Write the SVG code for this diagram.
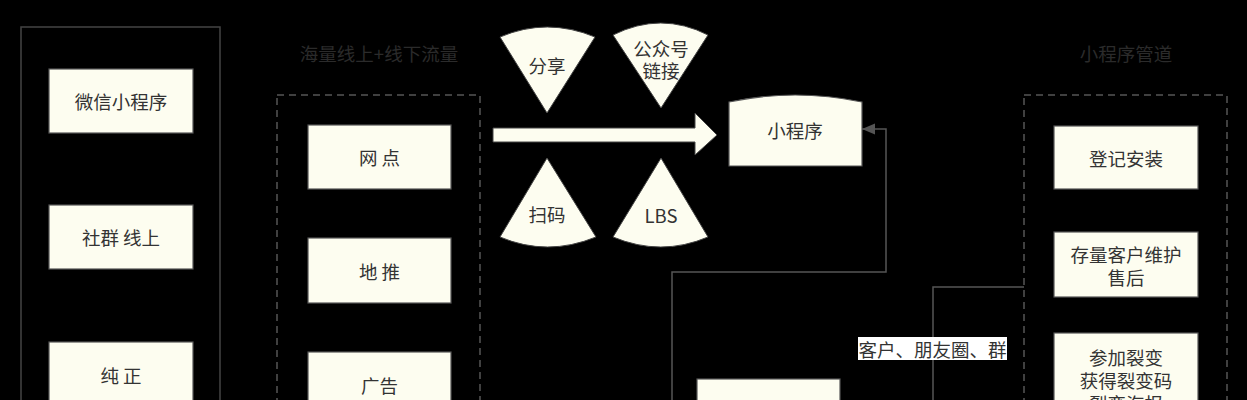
<svg xmlns="http://www.w3.org/2000/svg" width="1247" height="400" viewBox="0 0 1247 400">
<style>
.bg{fill:#000}
.box{fill:#fdfdf0;stroke:#555;stroke-width:1.2}
.shape{fill:#fdfdf0;stroke:#444;stroke-width:1}
.txt{font-family:"Noto Sans CJK SC","Noto Sans",sans-serif;font-size:18.5px;fill:#333;text-anchor:middle;dominant-baseline:central}
.title{font-family:"Noto Sans CJK SC","Noto Sans",sans-serif;font-size:18.5px;fill:#2b2b2b;text-anchor:middle;dominant-baseline:central}
.solidc{fill:none;stroke:#444;stroke-width:1.5}
.dashc{fill:none;stroke:#555;stroke-width:1.5;stroke-dasharray:7 5}
.conn{fill:none;stroke:#555;stroke-width:1.5}
</style>
<defs>
<marker id="arr" markerWidth="14" markerHeight="12" refX="13" refY="6" orient="auto" markerUnits="userSpaceOnUse">
<path d="M0,0.5 L13,6 L0,11.5 Z" fill="#555"/>
</marker>
</defs>
<rect class="bg" x="0" y="0" width="1247" height="400"/>

<g id="container-left">
<rect class="solidc" x="21" y="27" width="199" height="400"/>
</g>
<g id="container-mid">
<text class="title" x="379" y="53">海量线上+线下流量</text>
<rect class="dashc" x="277" y="95" width="203" height="330"/>
</g>
<g id="container-right">
<text class="title" x="1126" y="53">小程序管道</text>
<rect class="dashc" x="1024" y="95" width="203" height="330"/>
</g>

<g id="connectors">
<path class="conn" d="M672,410 L672,272 L886,272 L886,129 L862,129" marker-end="url(#arr)"/>
<path class="conn" d="M1024,287 L933,287 L933,410"/>
<rect x="858" y="337" width="149" height="23" fill="#fff"/>
<text class="txt" x="932.5" y="348.5">客户、朋友圈、群</text>
</g>

<g id="node-weixin"><rect class="box" x="49" y="69" width="144" height="64"/><text class="txt" x="121" y="101">微信小程序</text></g>
<g id="node-shequn"><rect class="box" x="49" y="205" width="144" height="64"/><text class="txt" x="121" y="237">社群 线上</text></g>
<g id="node-chunzheng"><rect class="box" x="49" y="342" width="144" height="64"/><text class="txt" x="121" y="375">纯 正</text></g>

<g id="node-wangdian"><rect class="box" x="308" y="125" width="143" height="64"/><text class="txt" x="379.5" y="157">网 点</text></g>
<g id="node-ditui"><rect class="box" x="308" y="238" width="143" height="65"/><text class="txt" x="379.5" y="270.5">地 推</text></g>
<g id="node-guanggao"><rect class="box" x="308" y="352" width="143" height="64"/><text class="txt" x="379.5" y="385">广告</text></g>

<g id="node-fenxiang"><path class="shape" d="M547,113 L500,37 Q547,17 595,37 Z"/><text class="txt" x="547" y="65">分享</text></g>
<g id="node-gongzhonghao"><path class="shape" d="M661,108 L613,35 Q661,11 708,35 Z"/><text class="txt" x="661" y="48">公众号</text><text class="txt" x="661" y="70">链接</text></g>
<g id="node-saoma"><path class="shape" d="M547,158 L500,237 Q547,257 596,237 Z"/><text class="txt" x="547" y="214">扫码</text></g>
<g id="node-lbs"><path class="shape" d="M661,158 L613,237 Q661,257 708,237 Z"/><text class="txt" x="661" y="215">LBS</text></g>

<g id="node-bigarrow"><path class="shape" d="M493,128 L695,128 L695,113 L717,135 L695,155 L695,142 L493,142 Z"/></g>

<g id="node-xiaochengxu"><path class="box" d="M729,102 Q795,88 862,102 L862,166 L729,166 Z"/><text class="txt" x="795" y="130">小程序</text></g>

<g id="node-bottom"><rect class="box" x="697" y="379" width="143" height="64"/></g>

<g id="node-dengji"><rect class="box" x="1054" y="126" width="144" height="63"/><text class="txt" x="1126" y="157.5">登记安装</text></g>
<g id="node-cunliang"><rect class="box" x="1054" y="232" width="144" height="65"/><text class="txt" x="1126" y="254">存量客户维护</text><text class="txt" x="1126" y="277">售后</text></g>
<g id="node-liebian"><rect class="box" x="1054" y="333" width="144" height="90"/><text class="txt" x="1126" y="357">参加裂变</text><text class="txt" x="1126" y="380">获得裂变码</text><text class="txt" x="1126" y="403">裂变海报</text></g>
</svg>
